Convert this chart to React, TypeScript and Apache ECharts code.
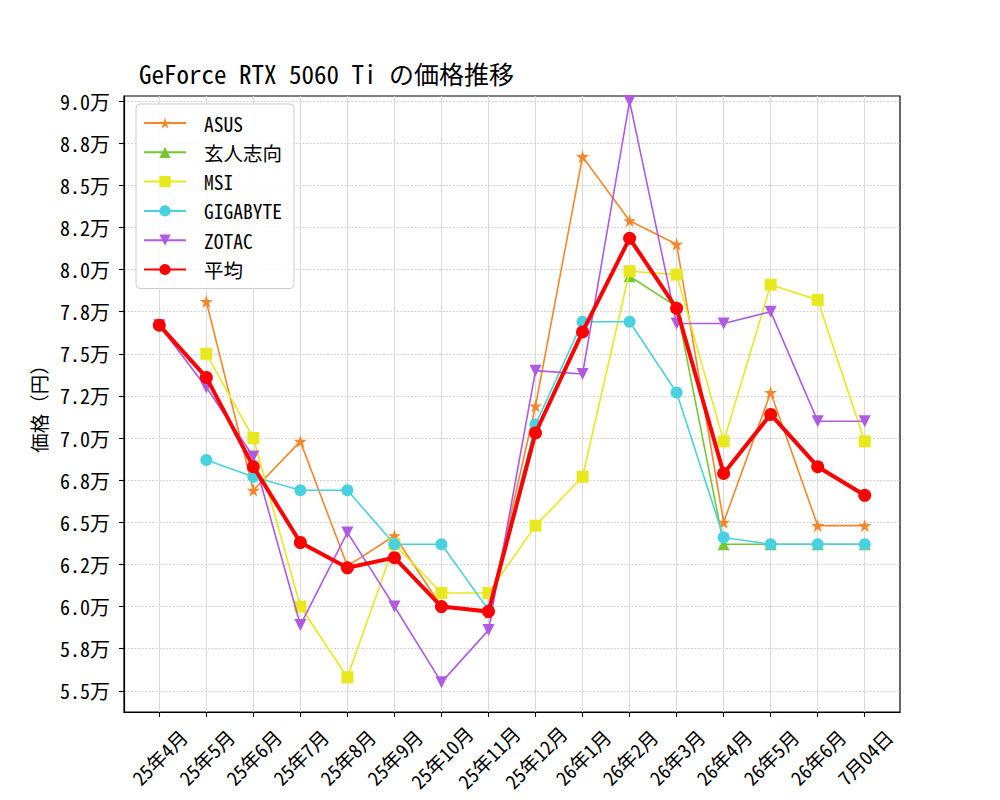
import React, { useEffect, useRef } from "react";
import * as echarts from "echarts";

const categories = ["25年4月", "25年5月", "25年6月", "25年7月", "25年8月", "25年9月", "25年10月", "25年11月", "25年12月", "26年1月", "26年2月", "26年3月", "26年4月", "26年5月", "26年6月", "7月04日"];

const asus = [null, 78100, 66900, 69800, 62400, 64200, 60000, 59600, 71900, 86700, 82900, 81500, 65000, 72700, 64800, 64800];
const kuroshikou = [null, null, null, null, null, null, null, null, null, null, 79600, 77800, 63700, 63700, 63700, 63700];
const msi = [null, 75000, 70000, 60000, 55800, 63700, 60800, 60800, 64800, 67700, 79900, 79700, 69800, 79100, 78200, 69800];
const gigabyte = [null, 68700, 67700, 66900, 66900, 63700, 63700, 59800, 70800, 76900, 76900, 72700, 64100, 63700, 63700, 63700];
const zotac = [76700, 73000, 68900, 58900, 64400, 60000, 55500, 58600, 74000, 73800, 90000, 76800, 76800, 77500, 71000, 71000];
const average = [76700, 73600, 68300, 63800, 62300, 62900, 60000, 59700, 70300, 76300, 81850, 77700, 67900, 71400, 68300, 66600];

const yTicks = [55000, 57500, 60000, 62500, 65000, 67500, 70000, 72500, 75000, 77500, 80000, 82500, 85000, 87500, 90000];
const yTickLabels = ["5.5万", "5.8万", "6.0万", "6.2万", "6.5万", "6.8万", "7.0万", "7.2万", "7.5万", "7.8万", "8.0万", "8.2万", "8.5万", "8.8万", "9.0万"];

const FONT = "'Noto Sans Mono CJK JP', 'Noto Sans CJK JP', 'DejaVu Sans Mono', monospace";
const STAR = "path://M50,0 L61.2,34.5 L97.6,34.5 L68.2,55.9 L79.4,90.5 L50,69.1 L20.6,90.5 L31.8,55.9 L2.4,34.5 L38.8,34.5 Z";
const DOWN_TRI = "path://M0,0 L10,0 L5,9 Z";

const seriesDefs = [
  { name: "ASUS", values: asus, color: "#F5872A", symbol: STAR, size: 13, width: 1.6 },
  { name: "玄人志向", values: kuroshikou, color: "#76C832", symbol: "triangle", size: 12, width: 1.6 },
  { name: "MSI", values: msi, color: "#E8E81E", symbol: "rect", size: 12, width: 1.6 },
  { name: "GIGABYTE", values: gigabyte, color: "#48D2E1", symbol: "circle", size: 12, width: 1.6 },
  { name: "ZOTAC", values: zotac, color: "#AF5AE1", symbol: DOWN_TRI, size: 12, width: 1.6 },
  { name: "平均", values: average, color: "#FF0000", symbol: "circle", size: 13, width: 4 },
];

export default function App() {
  const ref = useRef<HTMLDivElement>(null);
  useEffect(() => {
    if (!ref.current) return;
    const chart = echarts.init(ref.current, null, { renderer: "svg" });
    const xTickValues = categories.map((_, i) => i);
    const option: any = {
      animation: false,
      backgroundColor: "#ffffff",
      textStyle: { fontFamily: FONT },
      title: {
        text: "GeForce RTX 5060 Ti の価格推移",
        left: 139,
        top: 60,
        padding: 0,
        textStyle: { fontFamily: FONT, fontSize: 25, fontWeight: "normal", color: "#000" },
      },
      grid: {
        left: 124,
        right: 100,
        top: 96,
        bottom: 88,
        show: true,
        borderColor: "#000",
        borderWidth: 1.2,
        backgroundColor: "transparent",
      },
      legend: {
        orient: "vertical",
        left: 136,
        top: 104,
        padding: [9, 12, 9, 7],
        itemWidth: 42,
        itemHeight: 14,
        itemGap: 9.3,
        z: 20,
        backgroundColor: "rgba(255,255,255,0.85)",
        borderColor: "#cccccc",
        borderWidth: 1,
        borderRadius: 4,
        textStyle: { fontSize: 19.5, color: "#000", fontFamily: FONT, lineHeight: 20, padding: [0, 0, 0, 13] },
        data: seriesDefs.map((s) => s.name),
      },
      xAxis: {
        type: "value",
        min: -0.75,
        max: 15.75,
        axisLine: { show: true, onZero: false, lineStyle: { color: "#000", width: 1.2 } },
        axisTick: { show: true, length: 5, lineStyle: { color: "#000", width: 1.1 }, customValues: xTickValues },
        axisLabel: {
          customValues: xTickValues,
          formatter: (v: number) => categories[Math.round(v)] ?? "",
          rotate: 45,
          align: "center",
          verticalAlign: "middle",
          margin: 45,
          fontSize: 19.5,
          color: "#000",
          fontFamily: FONT,
        },
        splitLine: { show: true, lineStyle: { color: "#dadada", width: 1 } },
      },
      yAxis: {
        type: "value",
        min: 53740,
        max: 90300,
        name: "価格（円）",
        nameLocation: "middle",
        nameGap: 76,
        nameRotate: 90,
        nameTextStyle: { fontSize: 19.5, color: "#000", fontFamily: FONT },
        axisLine: { show: true, onZero: false, lineStyle: { color: "#000", width: 1.2 } },
        axisTick: { show: true, length: 5, lineStyle: { color: "#000", width: 1.1 }, customValues: yTicks },
        axisLabel: {
          customValues: yTicks,
          formatter: (v: number) => {
            const i = yTicks.indexOf(v);
            return i >= 0 ? yTickLabels[i] : "";
          },
          margin: 14,
          fontSize: 20,
          color: "#000",
          fontFamily: FONT,
        },
        splitLine: { show: true, lineStyle: { color: "#d0d0d0", width: 1, type: [2, 1.5] } },
      },
      series: seriesDefs.map((s, k) => ({
        name: s.name,
        type: "line",
        z: 2 + k,
        data: s.values
          .map((v, i) => (v === null ? null : [i, v]))
          .filter((d) => d !== null),
        symbol: s.symbol,
        symbolSize: s.size,
        showAllSymbol: true,
        lineStyle: { color: s.color, width: s.width },
        itemStyle: { color: s.color, borderColor: s.color, borderWidth: 0 },
        emphasis: { disabled: true },
      })),
    };
    chart.setOption(option);
    return () => chart.dispose();
  }, []);
  return <div ref={ref} style={{ position: "absolute", left: 0, top: 0, width: 1000, height: 800 }} />;
}
